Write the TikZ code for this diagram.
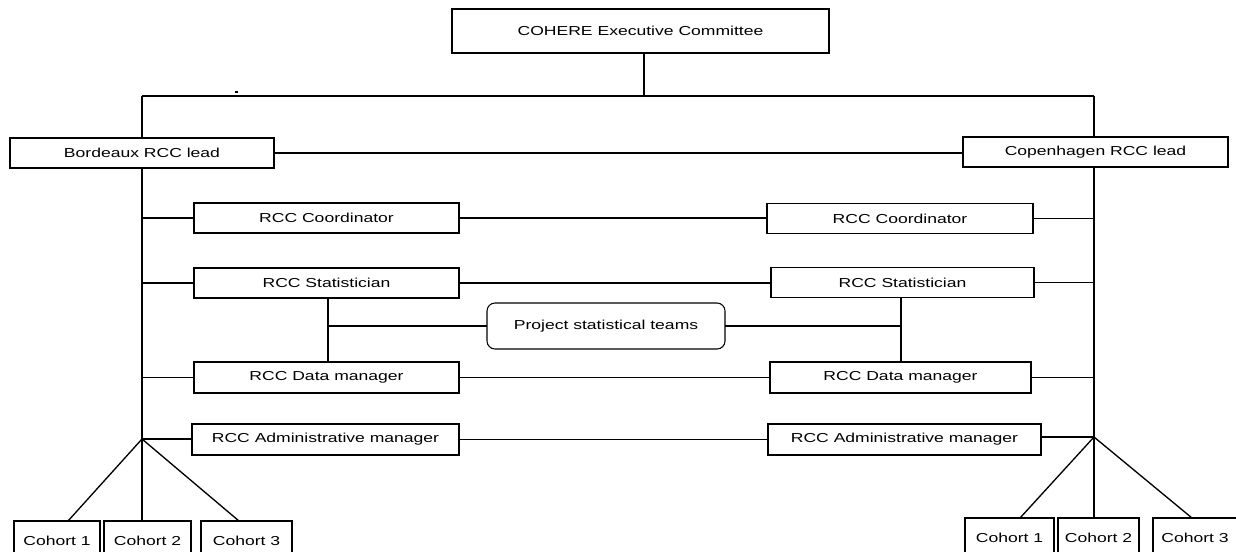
\documentclass[tikz,border=0pt]{standalone}
\usepackage{fontspec}
\setmainfont{Liberation Sans}[FakeStretch=1.35]
\begin{document}
\begin{tikzpicture}[x=0.75pt,y=-0.75pt,
  box/.style={draw=black,line width=0.8pt,fill=white,inner sep=0pt,outer sep=0pt,
    font=\fontsize{9.75pt}{11pt}\selectfont,align=center},
  wh/.style 2 args={minimum width={#1*0.75pt},minimum height={#2*0.75pt}},
  roundbox/.style={box,rounded corners=6pt},
  link/.style={line width=1pt},
  trunk/.style={line width=1.5pt}]
\clip (0,0) rectangle (1236,551);
\fill[white] (0,0) rectangle (1236,551);

% top
\node[box,wh={377}{44}] (exec) at (640.5,31) {COHERE Executive Committee};
\node[box,wh={264}{30}] (bord) at (142,153) {Bordeaux RCC lead};
\node[box,wh={265}{30}] (cope) at (1095.5,152) {Copenhagen RCC lead};

% left column
\node[box,wh={265}{30}] (lcoord) at (326.5,218) {RCC Coordinator};
\node[box,wh={265}{30}] (lstat)  at (326.5,283) {RCC Statistician};
\node[box,wh={265}{31}] (ldm)    at (326.5,377.5) {RCC Data manager};
\node[box,wh={267}{31}] (ladm)   at (325.5,439.5) {RCC Administrative manager};

% right column
\node[box,wh={266}{30}] (rcoord) at (900,218.5) {RCC Coordinator};
\node[box,wh={263}{30}] (rstat)  at (902.5,282.5) {RCC Statistician};
\node[box,wh={261}{31}] (rdm)    at (900.5,377.5) {RCC Data manager};
\node[box,wh={273}{31}] (radm)   at (904.5,439.5) {RCC Administrative manager};

% project teams
\node[roundbox,wh={238}{46}] (proj) at (606,326) {Project statistical teams};

% cohorts
\node[box,wh={86}{39}] (lc1) at (57,540.5) {Cohort 1};
\node[box,wh={87}{39}] (lc2) at (147.5,540.5) {Cohort 2};
\node[box,wh={91}{39}] (lc3) at (246.5,540.5) {Cohort 3};
\node[box,wh={89}{39}] (rc1) at (1009.5,537.5) {Cohort 1};
\node[box,wh={81}{39}] (rc2) at (1098.5,537.5) {Cohort 2};
\node[box,wh={84}{39}] (rc3) at (1195,537.5) {Cohort 3};

% junction coordinates
\coordinate (top) at (644,96);
\coordinate (topL) at (142,96);
\coordinate (topR) at (1094,96);
\coordinate (lbr) at (142,439);
\coordinate (rbr) at (1094,437);
\coordinate (lsj) at (328,326);
\coordinate (rsj) at (901,326);

% connectors
\draw[trunk] (exec.south -| top) -- (top);
\draw[link] (topL) -- (topR);
\draw[link] (topL) -- (bord.north -| topL);
\draw[link] (topR) -- (cope.north -| topR);
\draw[link] (bord.east) -- (cope.west |- bord.east);
\draw[trunk] (bord.south -| lbr) -- (lbr);
\draw[trunk] (cope.south -| rbr) -- (rbr);

\draw[link] (lcoord.west -| lbr) -- (lcoord.west);
\draw[link] (lstat.west -| lbr) -- (lstat.west);
\draw[link] (ldm.west -| lbr) -- (ldm.west);
\draw[link] (lbr) -- (ladm.west |- lbr);

\draw[link] (rcoord.east) -- (rcoord.east -| rbr);
\draw[link] (rstat.east) -- (rstat.east -| rbr);
\draw[link] (rdm.east) -- (rdm.east -| rbr);
\draw[link] (radm.east |- rbr) -- (rbr);

\draw[link] (lcoord.east) -- (rcoord.west |- lcoord.east);
\draw[link] (lstat.east) -- (rstat.west |- lstat.east);
\draw[link] (ldm.east) -- (rdm.west |- ldm.east);
\draw[link] (ladm.east) -- (radm.west |- ladm.east);

\draw[link] (lstat.south -| lsj) -- (ldm.north -| lsj);
\draw[link] (rstat.south -| rsj) -- (rdm.north -| rsj);
\draw[link] (lsj) -- (proj.west);
\draw[link] (proj.east) -- (rsj);

\draw[link] (lbr) -- (lc1.north -| 68,0);
\draw[link] (lbr) -- (lc2.north -| lbr);
\draw[link] (lbr) -- (lc3.north -| 239,0);
\draw[link] (rbr) -- (rc1.north -| 1020,0);
\draw[link] (rbr) -- (rc2.north -| rbr);
\draw[link] (rbr) -- (rc3.north -| 1192,0);

% stray mark
\draw[line width=1pt] (235,92) -- (237.5,92);
\end{tikzpicture}
\end{document}
